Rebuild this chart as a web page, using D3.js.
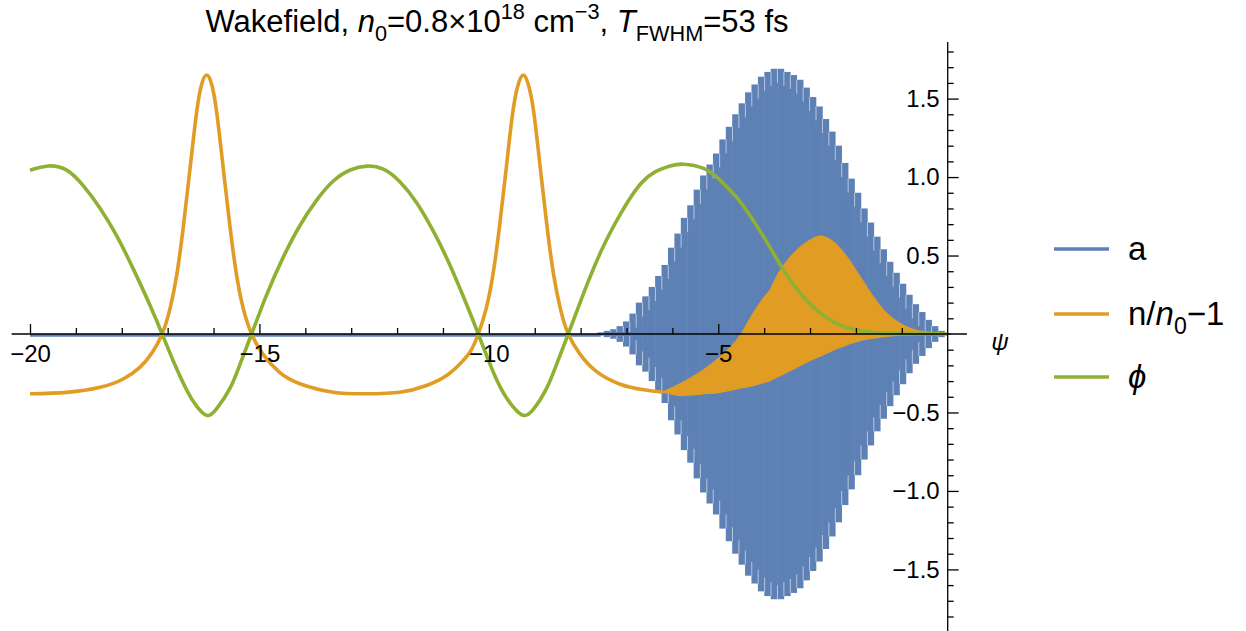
<!DOCTYPE html>
<meta charset="utf-8">
<style>
  body { margin: 0; background: #fff; }
  text { font-family: "Liberation Sans", Arial, sans-serif; fill: #000; }
</style>
<svg id="chart" width="1246" height="631"></svg>
<script src="https://d3js.org/d3.v7.min.js"></script>
<script>

// laser field a: the carrier is far too fast for the pixels, so what shows is
// a comb of stripes. psi of each stripe and the height of its envelope.
var aPsi = [-7.56, -7.42, -7.28, -7.14, -7.00, -6.86, -6.72, -6.58, -6.44, -6.30,
            -6.16, -6.02, -5.88, -5.74, -5.60, -5.46, -5.32, -5.18, -5.04, -4.90,
            -4.76, -4.62, -4.48, -4.34, -4.20, -4.06, -3.92, -3.78, -3.64, -3.50,
            -3.36, -3.22, -3.08, -2.94, -2.80, -2.66, -2.52, -2.38, -2.24, -2.10,
            -1.96, -1.82, -1.68, -1.54, -1.40, -1.26, -1.12, -0.98, -0.84, -0.70,
            -0.56, -0.42, -0.28, -0.14, 0.00];
var aAmp = [0.01, 0.02, 0.03, 0.05, 0.08, 0.13, 0.20, 0.24, 0.30, 0.37,
            0.44, 0.55, 0.64, 0.74, 0.82, 0.92, 1.01, 1.08, 1.15, 1.24,
            1.32, 1.40, 1.47, 1.54, 1.59, 1.64, 1.67, 1.69, 1.69, 1.67,
            1.65, 1.62, 1.57, 1.51, 1.45, 1.37, 1.29, 1.20, 1.09, 0.99,
            0.90, 0.80, 0.71, 0.62, 0.54, 0.46, 0.39, 0.32, 0.25, 0.19,
            0.14, 0.09, 0.05, 0.02, 0.005];

// density n/n0-1, smooth part behind the pulse
var nPsi = [-20.0, -19.2, -18.47, -17.96, -17.6, -17.34, -17.12, -16.95, -16.8, -16.66,
            -16.51, -16.37, -16.26, -16.15, -16.04, -15.93, -15.79, -15.64, -15.5, -15.35,
            -15.17, -14.92, -14.56, -14.12, -13.39, -12.66, -11.94, -11.36, -10.92, -10.63,
            -10.41, -10.23, -10.06, -9.91, -9.77, -9.62, -9.48, -9.36, -9.25, -9.14,
            -9.02, -8.88, -8.73, -8.59, -8.44, -8.27, -8.01, -7.65, -7.14, -6.63, -6.2];
var nVal = [-0.381, -0.372, -0.34, -0.285, -0.211, -0.12, 0.0, 0.16, 0.38, 0.68,
            1.06, 1.41, 1.59, 1.65, 1.59, 1.41, 1.06, 0.68, 0.38, 0.16,
            0.0, -0.13, -0.245, -0.317, -0.371, -0.381, -0.371, -0.328, -0.264, -0.19,
            -0.115, 0.0, 0.16, 0.38, 0.68, 1.06, 1.41, 1.59, 1.65, 1.59,
            1.41, 1.06, 0.68, 0.38, 0.16, 0.0, -0.13, -0.24, -0.32, -0.355, -0.371];

// density inside the pulse: it wiggles with the laser, so lower and upper edge
var nFillPsi = [-6.2, -6.05, -5.84, -5.69, -5.33, -4.96, -4.6, -4.45, -4.24, -4.02,
                -3.87, -3.73, -3.36, -3.0, -2.78, -2.49, -2.2, -1.91, -1.62, -1.33,
                -1.04, -0.68, -0.31, 0.0];
var nFillLo = [-0.371, -0.38, -0.392, -0.39, -0.381, -0.371, -0.349, -0.34, -0.328, -0.31,
               -0.296, -0.275, -0.222, -0.168, -0.14, -0.1, -0.068, -0.041, -0.025, -0.014,
               -0.007, -0.003, -0.001, 0.0];
var nFillHi = [-0.371, -0.349, -0.32, -0.296, -0.232, -0.147, -0.041, 0.023, 0.13, 0.225,
               0.28, 0.363, 0.512, 0.597, 0.623, 0.586, 0.491, 0.363, 0.235, 0.13,
               0.066, 0.023, 0.008, 0.0];

// potential phi
var phiPsi = [-20.0, -19.6, -19.2, -18.84, -18.47, -18.11, -17.75, -17.38, -17.12, -16.88,
              -16.58, -16.37, -16.15, -15.93, -15.64, -15.42, -15.17, -14.85, -14.48, -14.12,
              -13.76, -13.39, -13.02, -12.66, -12.3, -11.94, -11.57, -11.21, -10.85, -10.48,
              -10.23, -9.9, -9.61, -9.39, -9.23, -9.03, -8.74, -8.52, -8.27, -7.94,
              -7.55, -7.14, -6.78, -6.42, -6.05, -5.76, -5.32, -4.96, -4.6, -4.24,
              -3.9, -3.56, -3.2, -2.84, -2.48, -2.12, -1.76, -1.2, 0.0];
var phiVal = [1.044, 1.071, 1.044, 0.945, 0.80, 0.625, 0.415, 0.18, 0.0, -0.17,
              -0.36, -0.46, -0.519, -0.475, -0.345, -0.19, 0.0, 0.245, 0.49, 0.69,
              0.85, 0.975, 1.045, 1.07, 1.05, 0.97, 0.835, 0.655, 0.44, 0.185,
              0.0, -0.245, -0.41, -0.49, -0.519, -0.48, -0.345, -0.19, 0.0, 0.255,
              0.53, 0.76, 0.925, 1.025, 1.07, 1.082, 1.055, 0.98, 0.87, 0.725,
              0.565, 0.40, 0.255, 0.148, 0.076, 0.035, 0.014, 0.004, 0.0];

var xMajor = [-20, -15, -10, -5];
var xMinor = [-19, -18, -17, -16, -14, -13, -12, -11, -9, -8, -7, -6, -4, -3, -2, -1];
var yMajor = [-1.5, -1.0, -0.5, 0.5, 1.0, 1.5];
var seriesNames = ["a", "n/n0-1", "phi"];
var colors = ["#5e81b5", "#e19c24", "#8fb032"];

var svg = d3.select("#chart");

var x = d3.scaleLinear().domain([-20, 0]).range([30, 947.7]);
var y = d3.scaleLinear().domain([0, 1.5]).range([334, 98.6]);

// ---- a ----
var gA = svg.append("g");
// flat zero before the pulse arrives
gA.append("path")
    .attr("d", d3.line()([[x(-20), y(0) + 1.3], [x(aPsi[0]), y(0) + 1.3]]))
    .style("stroke", colors[0])
    .style("stroke-width", 3)
    .style("fill", "none");

var colW = x(aPsi[1]) - x(aPsi[0]);
gA.selectAll("rect")
    .data(aPsi)
    .enter()
    .append("rect")
    .attr("x", d => x(d) - colW / 2 - 0.3)
    .attr("width", colW + 0.6)
    .attr("y", (d, i) => y(aAmp[i]))
    .attr("height", (d, i) => y(-aAmp[i]) - y(aAmp[i]))
    .style("fill", colors[0]);

// light seams between stripes, only near the tips
var seams = d3.range(aPsi.length - 1);
gA.selectAll("line.seamTop")
    .data(seams)
    .enter()
    .append("line")
    .attr("class", "seamTop")
    .attr("x1", i => (x(aPsi[i]) + x(aPsi[i + 1])) / 2)
    .attr("x2", i => (x(aPsi[i]) + x(aPsi[i + 1])) / 2)
    .attr("y1", i => y(Math.min(aAmp[i], aAmp[i + 1])))
    .attr("y2", i => Math.min(y(Math.min(aAmp[i], aAmp[i + 1])) + 14, y(0) - 2))
    .style("stroke", "#fff")
    .style("stroke-opacity", 0.55)
    .style("stroke-width", 1);
gA.selectAll("line.seamBot")
    .data(seams)
    .enter()
    .append("line")
    .attr("class", "seamBot")
    .attr("x1", i => (x(aPsi[i]) + x(aPsi[i + 1])) / 2)
    .attr("x2", i => (x(aPsi[i]) + x(aPsi[i + 1])) / 2)
    .attr("y1", i => y(-Math.min(aAmp[i], aAmp[i + 1])))
    .attr("y2", i => Math.max(y(-Math.min(aAmp[i], aAmp[i + 1])) - 14, y(0) + 2))
    .style("stroke", "#fff")
    .style("stroke-opacity", 0.55)
    .style("stroke-width", 1);

// ---- n/n0 - 1 ----
var nLine = d3.line()
    .x((d, i) => x(nPsi[i]))
    .y(d => y(d))
    .curve(d3.curveNatural);
svg.append("path")
    .attr("d", nLine(nVal))
    .style("stroke", colors[1])
    .style("stroke-width", 3.6)
    .style("fill", "none");

var nArea = d3.area()
    .x((d, i) => x(nFillPsi[i]))
    .y0((d, i) => y(nFillLo[i]))
    .y1((d, i) => y(nFillHi[i]))
    .curve(d3.curveMonotoneX);
svg.append("path")
    .attr("d", nArea(nFillPsi))
    .style("fill", colors[1])
    .style("stroke", colors[1])
    .style("stroke-width", 1.5);

// ---- phi ----
var phiLine = d3.line()
    .x((d, i) => x(phiPsi[i]))
    .y(d => y(d))
    .curve(d3.curveNatural);
svg.append("path")
    .attr("d", phiLine(phiVal))
    .style("stroke", colors[2])
    .style("stroke-width", 3.6)
    .style("fill", "none");

// ---- axes, Mathematica style: crossing at the origin ----
var xAxisMajor = d3.axisBottom(x).tickValues(xMajor)
    .tickSizeInner(-10).tickSizeOuter(0).tickPadding(11)
    .tickFormat(d3.format("d"));
var xAxisMinor = d3.axisBottom(x).tickValues(xMinor)
    .tickSizeInner(-6).tickSizeOuter(0).tickFormat("");
var gx = svg.append("g").attr("transform", "translate(0," + y(0) + ")");
gx.append("g").call(xAxisMinor);
gx.append("g").call(xAxisMajor);
gx.selectAll(".domain").remove();
gx.append("line")
    .attr("x1", x(-20.4)).attr("x2", x(0.42))
    .style("stroke", "#000").style("stroke-width", 1.3);

var yMinor = d3.range(-18, 19).map(k => k / 10)
    .filter(v => v !== 0 && yMajor.indexOf(v) < 0);
var yAxisMajor = d3.axisLeft(y).tickValues(yMajor)
    .tickSizeInner(-11).tickSizeOuter(0).tickPadding(8)
    .tickFormat(d3.format(".1f"));
var yAxisMinor = d3.axisLeft(y).tickValues(yMinor)
    .tickSizeInner(-6).tickSizeOuter(0).tickFormat("");
var gy = svg.append("g").attr("transform", "translate(" + x(0) + ",0)");
gy.append("g").call(yAxisMinor);
gy.append("g").call(yAxisMajor);
gy.selectAll(".domain").remove();
gy.append("line")
    .attr("y1", 42).attr("y2", 631)
    .style("stroke", "#000").style("stroke-width", 1.3);

svg.selectAll(".tick line").style("stroke", "#000").style("stroke-width", 1.3);
svg.selectAll(".tick text")
    .style("font-family", "'Liberation Sans', Arial, sans-serif")
    .style("font-size", "24px")
    .style("fill", "#000");

svg.append("text")
    .attr("x", 1000).attr("y", 350)
    .attr("text-anchor", "middle")
    .style("font-size", "24px")
    .style("font-style", "italic")
    .text("\u03C8");

// ---- rich text helper for sub/superscripts ----
function rich(sel, parts, size) {
    var shift = 0;
    parts.forEach(function(p) {
        var t = sel.append("tspan").text(p.t);
        var target = 0, fs = size;
        if (p.s === "sub") { target = 0.28 * size; fs = 0.7 * size; }
        if (p.s === "sup") { target = -0.42 * size; fs = 0.7 * size; }
        t.attr("dy", target - shift).style("font-size", fs + "px");
        if (p.i) t.style("font-style", "italic");
        shift = target;
    });
}

var title = svg.append("text")
    .attr("x", 497).attr("y", 32)
    .attr("text-anchor", "middle");
rich(title, [
    {t: "Wakefield, "}, {t: "n", i: true}, {t: "0", s: "sub"},
    {t: "=0.8\u00D710"}, {t: "18", s: "sup"}, {t: " cm"}, {t: "\u22123", s: "sup"},
    {t: ", "}, {t: "T", i: true}, {t: "FWHM", s: "sub"}, {t: "=53 fs"}
], 31);

// ---- legend ----
var legY = [249, 314, 377];
var legLabels = [
    [{t: "a"}],
    [{t: "n/"}, {t: "n", i: true}, {t: "0", s: "sub"}, {t: "\u22121"}],
    [{t: "\u03D5", i: true}]
];
var leg = svg.append("g");
seriesNames.forEach(function(name, i) {
    leg.append("line")
        .attr("x1", 1054).attr("x2", 1109)
        .attr("y1", legY[i]).attr("y2", legY[i])
        .style("stroke", colors[i])
        .style("stroke-width", 3.6);
    var t = leg.append("text")
        .attr("x", 1128).attr("y", legY[i] + 11);
    rich(t, legLabels[i], 33);
});

</script>
